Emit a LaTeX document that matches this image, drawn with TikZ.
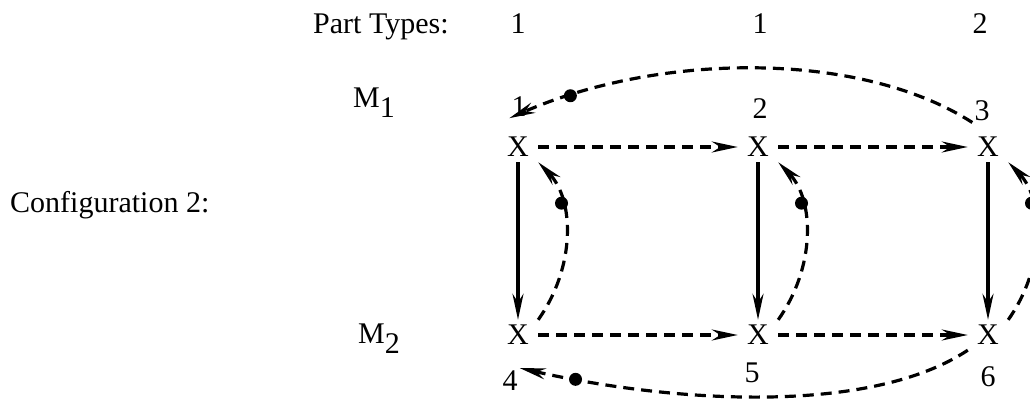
\documentclass[tikz,border=0pt]{standalone}
\usepackage{fontspec}
\setmainfont{Liberation Serif}
\usepackage{tikz}
\usetikzlibrary{arrows.meta,positioning,calc}

\newcommand{\bigtxt}{\fontsize{30}{36}\selectfont}
\newcommand{\mach}[1]{M\raisebox{-10pt}{#1}}

\begin{document}
\begin{tikzpicture}[
        x=1pt, y=-1pt,
        every node/.style={font=\bigtxt},
        txt/.style={anchor=base west, inner sep=0pt},
        num/.style={anchor=base, inner sep=2pt},
        xmark/.style={minimum width=40pt, minimum height=30pt, inner sep=0pt},
        blob/.style={circle, fill=black, inner sep=0pt, minimum size=13pt},
        headed/.style={-{Stealth[length=26pt, width=11pt]}, line width=3.2pt},
        dasharrow/.style={headed, dash pattern=on 11pt off 7pt}
    ]
    \useasboundingbox (0,0) rectangle (1030,410);

    \node[txt] (pt)  at (313,33)  {Part Types:};
    \node[num] (t1)  at (518,33)  {1};
    \node[num] (t2)  at (760,33)  {1};
    \node[num] (t3)  at (980,33)  {2};
    \node[txt] (m1)  at (353,107) {\mach{1}};
    \node[txt] (m2)  at (358,343) {\mach{2}};
    \node[txt] (cfg) at (10,212)  {Configuration 2:};

    % machine positions
    \node[xmark] (x1) at (518,147) {X};
    \node[xmark] (x2) at (758,147) {X};
    \node[xmark] (x3) at (988,147) {X};
    \node[xmark] (x4) at (518,335) {X};
    \node[xmark] (x5) at (758,335) {X};
    \node[xmark] (x6) at (988,335) {X};

    \node[num] (n1) at (519,116) {1};
    \node[num] (n2) at (760,118) {2};
    \node[num] (n3) at (982,120) {3};
    \node[num] (n4) at (510,390) {4};
    \node[num] (n5) at (752,382) {5};
    \node[num] (n6) at (988,386) {6};

    \foreach \a/\b in {x1/x2,x2/x3,x4/x5,x5/x6}
        \draw[dasharrow] (\a) -- (\b);
    \foreach \a/\b in {x1/x4,x2/x5,x3/x6}
        \draw[headed] (\a) -- (\b);
    \foreach \a/\b in {x4/x1,x5/x2,x6/x3}
        \draw[dasharrow] (\a.north east) .. controls +(37,-52) and +(37,38) .. (\b.south east)
            node[blob, pos=0.7] {};

    % return arcs
    \draw[dasharrow] (n3.south west) .. controls +(-112,-72) and +(151,-66) .. (n1.south west)
        node[blob, pos=0.87] {};
    \draw[dasharrow] (x6.south west) .. controls +(-100,66) and +(150,34) .. (n4.north east)
        node[blob, pos=0.88] {};
\end{tikzpicture}
\end{document}
